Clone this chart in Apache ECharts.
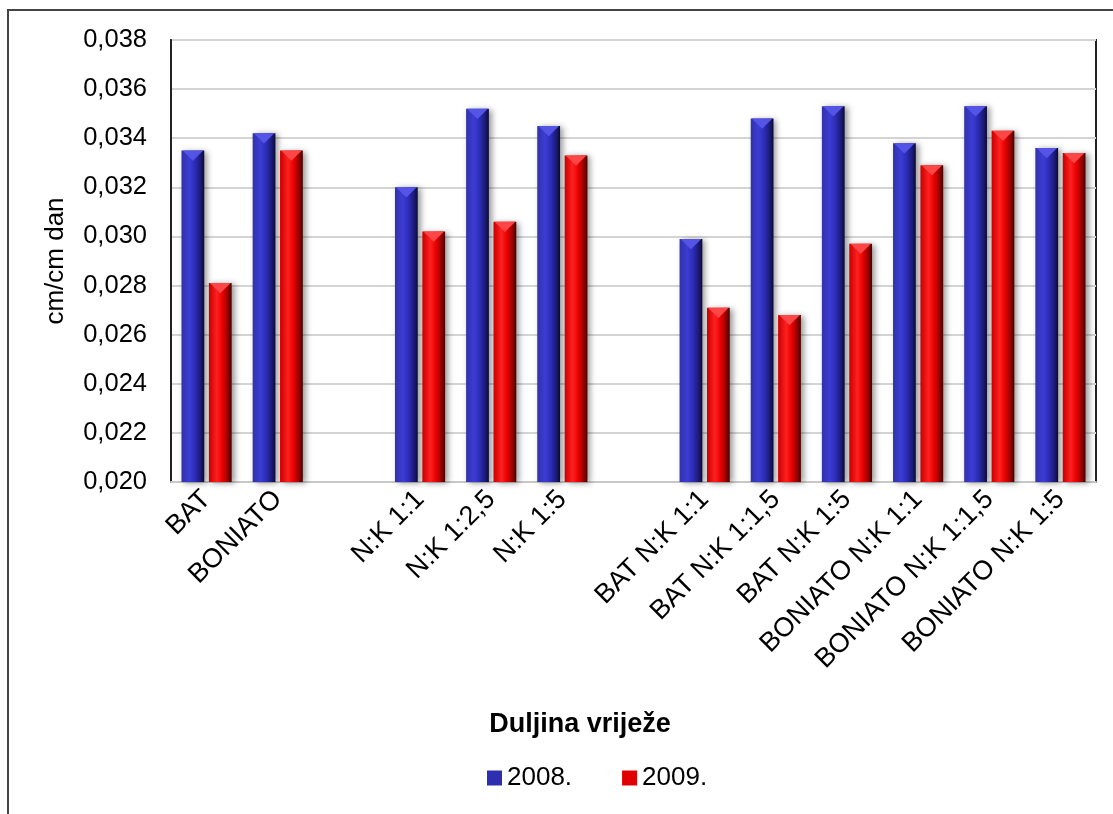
<!DOCTYPE html>
<html>
<head>
<meta charset="utf-8">
<script src="https://cdn.jsdelivr.net/npm/echarts@6/dist/echarts.min.js"></script>
<style>
html,body{margin:0;padding:0;background:#fff;}
#chart{width:1113px;height:814px;}
</style>
</head>
<body>
<div id="chart"></div>
<script>
const categories = ['BAT', 'BONIATO', '', 'N:K 1:1', 'N:K 1:2,5', 'N:K 1:5', '',
  'BAT N:K 1:1', 'BAT N:K 1:1,5', 'BAT N:K 1:5', 'BONIATO N:K 1:1', 'BONIATO N:K 1:1,5', 'BONIATO N:K 1:5'];
const values2008 = [0.0335, 0.0342, null, 0.0320, 0.0352, 0.0345, null,
  0.0299, 0.0348, 0.0353, 0.0338, 0.0353, 0.0336];
const values2009 = [0.0281, 0.0335, null, 0.0302, 0.0306, 0.0333, null,
  0.0271, 0.0268, 0.0297, 0.0329, 0.0343, 0.0334];
const seriesNames = ['2008.', '2009.'];
const yMin = 0.020, yMax = 0.038, yStep = 0.002;

const palettes = [
  {solid: '#2e2eb0', stops: ['#3232a8', '#3c3cd6', '#2c2cb6', '#1a1a72', '#0a0a32'], tri: '#5454e6'},
  {solid: '#e00000', stops: ['#c80000', '#ff2020', '#e80000', '#900000', '#400000'], tri: '#ff4545'}
];

function makeRender(si) {
  return function (params, api) {
    const idx = api.value(0), v = api.value(1);
    const top = api.coord([idx, v]);
    const base = api.coord([idx, yMin]);
    const band = api.size([1, 0])[0];
    const w = band * 0.32, gap = band * 0.065;
    const x0 = si === 0 ? top[0] - gap / 2 - w : top[0] + gap / 2;
    const p = palettes[si];
    const grad = {type: 'linear', x: 0, y: 0, x2: 1, y2: 0, colorStops: [
      {offset: 0, color: p.stops[0]}, {offset: 0.35, color: p.stops[1]},
      {offset: 0.6, color: p.stops[2]}, {offset: 0.85, color: p.stops[3]},
      {offset: 1, color: p.stops[4]}]};
    const th = w * 0.45;
    return {
      type: 'group',
      children: [
        {type: 'rect', shape: {x: x0, y: top[1], width: w, height: base[1] - top[1]},
          style: {fill: grad, shadowBlur: 6, shadowColor: 'rgba(0,0,0,0.4)', shadowOffsetX: 3, shadowOffsetY: 1}},
        {type: 'polygon', shape: {points: [[x0 + 1, top[1]], [x0 + w - 1, top[1]], [x0 + w / 2, top[1] + th]]},
          style: {fill: p.tri}}
      ]
    };
  };
}

function seriesData(vals) {
  const out = [];
  vals.forEach((v, i) => { if (v !== null) out.push([i, v]); });
  return out;
}

const FF = '"Liberation Sans", Arial, sans-serif';
const chart = echarts.init(document.getElementById('chart'));
chart.setOption({
  animation: false,
  textStyle: {fontFamily: FF},
  grid: {left: 171, top: 40, right: 17, bottom: 332, show: true, borderColor: '#222', borderWidth: 2, backgroundColor: '#fff'},
  legend: {
    data: seriesNames, left: 487, top: 765, padding: 0, itemWidth: 15, itemHeight: 15, itemGap: 50, icon: 'rect',
    textStyle: {fontSize: 26, color: '#000', fontFamily: FF}
  },
  graphic: [
    {type: 'rect', shape: {x: 8, y: 10, width: 1200, height: 900}, style: {fill: 'none', stroke: '#444', lineWidth: 2}, z: -1, silent: true},
    {type: 'text', x: 580, y: 725, style: {text: 'Duljina vriježe', font: 'bold 27px "Liberation Sans", Arial, sans-serif', fill: '#000', align: 'center', verticalAlign: 'middle'}}
  ],
  xAxis: {
    type: 'category', data: categories,
    axisLine: {show: true, lineStyle: {color: '#c8c8c8', width: 2}},
    axisTick: {show: false},
    axisLabel: {rotate: 45, fontSize: 27, color: '#000', margin: 13, interval: 0, fontFamily: FF}
  },
  yAxis: {
    type: 'value', min: yMin, max: yMax, interval: yStep,
    name: 'cm/cm dan', nameLocation: 'middle', nameGap: 102,
    nameTextStyle: {fontSize: 26, color: '#000', fontFamily: FF},
    axisLine: {show: true, lineStyle: {color: '#222', width: 2}},
    axisTick: {show: false},
    axisLabel: {fontSize: 25.5, color: '#000', margin: 24, fontFamily: FF, formatter: v => v.toFixed(3).replace('.', ',')},
    splitLine: {lineStyle: {color: '#d4d4d4', width: 2}}
  },
  series: [0, 1].map(si => ({
    type: 'custom', name: seriesNames[si],
    itemStyle: {color: palettes[si].solid},
    renderItem: makeRender(si),
    encode: {x: 0, y: 1},
    data: seriesData(si === 0 ? values2008 : values2009)
  }))
});
</script>
</body>
</html>
